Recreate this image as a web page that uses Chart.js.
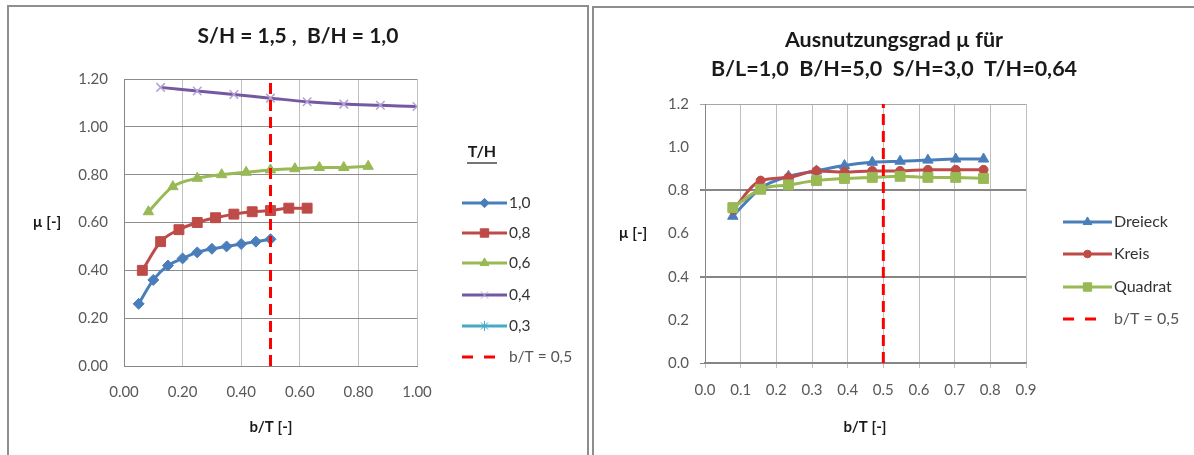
<!DOCTYPE html>
<html><head><meta charset="utf-8">
<script src="https://cdn.jsdelivr.net/npm/chart.js@4.4.0/dist/chart.umd.min.js"></script>
<style>
body{margin:0;background:#fff;width:1194px;height:455px;overflow:hidden;position:relative;}
.panel{position:absolute;border:2px solid #8e8e8e;box-sizing:border-box;}
canvas{position:absolute;}
</style></head><body>
<div class="panel" style="left:7px;top:5px;width:582px;height:470px"></div>
<div class="panel" style="left:592px;top:6px;width:620px;height:470px"></div>
<canvas id="c1" width="577" height="448" style="left:9px;top:7px"></canvas>
<canvas id="c2" width="598" height="447" style="left:595px;top:8px"></canvas>
<script>
// ---------- DATA: left chart ----------
const leftTitle = 'S/H = 1,5 ,  B/H = 1,0';
const leftLegendTitle = 'T/H';
const leftSeriesNames = ['1,0', '0,8', '0,6', '0,4', '0,3'];
const bT_TH10 = [0.05, 0.10, 0.15, 0.20, 0.25, 0.30, 0.35, 0.40, 0.45, 0.50];
const mu_TH10 = [0.26, 0.36, 0.42, 0.45, 0.475, 0.49, 0.50, 0.51, 0.52, 0.53];
const bT_TH08 = [0.0625, 0.125, 0.1875, 0.25, 0.3125, 0.375, 0.4375, 0.5, 0.5625, 0.625];
const mu_TH08 = [0.40, 0.52, 0.57, 0.60, 0.62, 0.635, 0.645, 0.65, 0.66, 0.66];
const bT_TH06 = [0.0833, 0.1667, 0.25, 0.3333, 0.4167, 0.5, 0.5833, 0.6667, 0.75, 0.8333];
const mu_TH06 = [0.645, 0.75, 0.785, 0.80, 0.81, 0.82, 0.825, 0.83, 0.83, 0.835];
const bT_TH04 = [0.125, 0.25, 0.375, 0.5, 0.625, 0.75, 0.875, 1.0];
const mu_TH04 = [1.165, 1.15, 1.135, 1.12, 1.105, 1.095, 1.09, 1.085];
const bT_TH03 = [];
const mu_TH03 = [];
const leftXTickValues = [0, 0.2, 0.4, 0.6, 0.8, 1.0];
const leftXTickLabels = ['0.00', '0.20', '0.40', '0.60', '0.80', '1.00'];
const leftYTickValues = [0, 0.2, 0.4, 0.6, 0.8, 1.0, 1.2];
const leftYTickLabels = ['0.00', '0.20', '0.40', '0.60', '0.80', '1.00', '1.20'];
const leftXTitle = 'b/T [-]';
const leftYTitle = 'µ [-]';

// ---------- DATA: reference line ----------
const refLineX = [0.5, 0.5];
const refLineY = [0, 1.2];
const refLineLabel = 'b/T = 0,5';

// ---------- DATA: right chart ----------
const rightTitleLines = ['Ausnutzungsgrad µ für', 'B/L=1,0  B/H=5,0  S/H=3,0  T/H=0,64'];
const rightSeriesNames = ['Dreieck', 'Kreis', 'Quadrat'];
const bT_right = [0.078, 0.156, 0.234, 0.3125, 0.391, 0.469, 0.547, 0.625, 0.703, 0.781];
const mu_Dreieck = [0.68, 0.81, 0.865, 0.89, 0.915, 0.93, 0.935, 0.94, 0.945, 0.945];
const mu_Kreis = [0.71, 0.845, 0.86, 0.89, 0.885, 0.89, 0.89, 0.895, 0.895, 0.895];
const mu_Quadrat = [0.72, 0.805, 0.825, 0.845, 0.855, 0.86, 0.865, 0.86, 0.86, 0.855];
const rightXTickValues = [0, 0.1, 0.2, 0.3, 0.4, 0.5, 0.6, 0.7, 0.8, 0.9];
const rightXTickLabels = ['0.0', '0.1', '0.2', '0.3', '0.4', '0.5', '0.6', '0.7', '0.8', '0.9'];
const rightYTickValues = [0, 0.2, 0.4, 0.6, 0.8, 1.0, 1.2];
const rightYTickLabels = ['0.0', '0.2', '0.4', '0.6', '0.8', '1.0', '1.2'];
const rightXTitle = 'b/T [-]';
const rightYTitle = 'µ [-]';

// ---------- helpers ----------
const FONT = 'Lato, "Open Sans", sans-serif';
Chart.defaults.font.family = FONT;
const pts = (xs, ys) => xs.map((x, i) => ({x: x, y: ys[i]}));

function drawMarker(ctx, style, r, x, y, fill, stroke, bw) {
  ctx.save();
  ctx.fillStyle = fill; ctx.strokeStyle = stroke;
  if (Chart.helpers && Chart.helpers.drawPoint) {
    Chart.helpers.drawPoint(ctx, {pointStyle: style, radius: r, rotation: 0, borderWidth: bw}, x, y);
  }
  ctx.restore();
}
function legendLine(ctx, x1, x2, y, color, lw, dash, marker) {
  ctx.save();
  ctx.strokeStyle = color; ctx.lineWidth = lw;
  if (dash) ctx.setLineDash(dash);
  ctx.beginPath(); ctx.moveTo(x1, y); ctx.lineTo(x2, y); ctx.stroke();
  ctx.restore();
  if (marker) drawMarker(ctx, marker.style, marker.r, (x1 + x2) / 2, y, marker.fill, marker.stroke, marker.bw);
}
function txt(ctx, s, x, y, font, color, align) {
  ctx.save();
  ctx.font = font; ctx.fillStyle = color; ctx.textAlign = align || 'center'; ctx.textBaseline = 'middle';
  ctx.fillText(s, x, y);
  ctx.restore();
}
function fixTicks(values) { return function (scale) { scale.ticks = values.map(v => ({value: v})); }; }
const isMult = (v, m) => Math.abs(v / m - Math.round(v / m)) < 1e-6;

// ---------- LEFT CHART ----------
const leftStyles = [
  {color: '#4A7EBB', style: 'rectRot', r: 5.5, fill: '#4A7EBB', stroke: '#4A7EBB', bw: 1},
  {color: '#BE4B48', style: 'rect', r: 7, fill: '#BE4B48', stroke: '#BE4B48', bw: 1},
  {color: '#98B954', style: 'triangle', r: 6, fill: '#98B954', stroke: '#98B954', bw: 1},
  {color: '#7459A0', style: 'crossRot', r: 6, fill: '#B3A2D3', stroke: '#B3A2D3', bw: 1.5},
  {color: '#46AAC5', style: 'star', r: 6, fill: '#46AAC5', stroke: '#46AAC5', bw: 1.5}
];
const leftXs = [bT_TH10, bT_TH08, bT_TH06, bT_TH04, bT_TH03];
const leftYs = [mu_TH10, mu_TH08, mu_TH06, mu_TH04, mu_TH03];

const leftDatasets = leftSeriesNames.map((name, i) => ({
  label: name,
  data: pts(leftXs[i], leftYs[i]),
  borderColor: leftStyles[i].color,
  borderWidth: 3,
  pointStyle: leftStyles[i].style,
  pointRadius: leftStyles[i].r,
  pointBackgroundColor: leftStyles[i].fill,
  pointBorderColor: leftStyles[i].stroke,
  pointBorderWidth: leftStyles[i].bw,
  cubicInterpolationMode: 'monotone',
  order: 10 - i
}));
leftDatasets.push({
  label: refLineLabel, data: pts(refLineX, refLineY), borderColor: '#FF0000', borderWidth: 3,
  borderDash: [11, 6], pointRadius: 0, order: 0
});

const leftDecor = {
  id: 'leftDecor',
  afterDraw(chart) {
    const ctx = chart.ctx;
    txt(ctx, leftTitle, 289, 29, 'bold 21px ' + FONT, '#1a1a1a');
    txt(ctx, leftYTitle, 38, 215, 'bold 15px ' + FONT, '#1a1a1a');
    txt(ctx, leftXTitle, 262, 420, 'bold 15px ' + FONT, '#1a1a1a');
    // legend
    txt(ctx, leftLegendTitle, 473, 145, 'bold 16px ' + FONT, '#1a1a1a');
    ctx.save(); ctx.strokeStyle = '#1a1a1a'; ctx.lineWidth = 1.2;
    ctx.beginPath(); ctx.moveTo(458, 156); ctx.lineTo(488, 156); ctx.stroke(); ctx.restore();
    const ly = [196, 226, 256, 288, 319];
    leftSeriesNames.forEach((n, i) => {
      const s = leftStyles[i];
      legendLine(ctx, 453, 498, ly[i], s.color, 3, null, {style: s.style, r: s.r * 0.85, fill: s.fill, stroke: s.stroke, bw: s.bw});
      txt(ctx, n, 500, ly[i], '15.5px ' + FONT, '#333', 'left');
    });
    legendLine(ctx, 453, 490, 350, '#FF0000', 3, [11, 11], null);
    txt(ctx, refLineLabel, 500, 350, '15.5px ' + FONT, '#555', 'left');
  }
};

new Chart(document.getElementById('c1'), {
  type: 'line',
  data: {datasets: leftDatasets},
  options: {
    responsive: false, animation: false,
    layout: {padding: {left: 0, top: 72, right: 169, bottom: 0}},
    plugins: {legend: {display: false}, title: {display: false}, tooltip: {enabled: false}},
    scales: {
      x: {
        type: 'linear', min: 0, max: 1,
        afterBuildTicks: fixTicks(leftXTickValues),
        afterFit(s) { s.height = 89; },
        grid: {color: '#BFBFBF', lineWidth: 1, drawTicks: false},
        border: {color: '#868686', width: 1},
        ticks: {padding: 17, color: '#595959', font: {size: 15},
          callback: (v, i) => leftXTickLabels[i]}
      },
      y: {
        type: 'linear', min: 0, max: 1.2,
        afterBuildTicks: fixTicks(leftYTickValues),
        afterFit(s) { s.width = 115; },
        grid: {color: '#8C8C8C', lineWidth: 1, drawTicks: false},
        border: {color: '#868686', width: 1},
        ticks: {padding: 16, color: '#595959', font: {size: 15},
          callback: (v, i) => leftYTickLabels[i]}
      }
    }
  },
  plugins: [leftDecor]
});

// ---------- RIGHT CHART ----------
const rightStyles = [
  {color: '#4A7EBB', style: 'triangle', r: 6, fill: '#4A7EBB', stroke: '#4A7EBB', bw: 1},
  {color: '#BE4B48', style: 'circle', r: 4.5, fill: '#BE4B48', stroke: '#BE4B48', bw: 1},
  {color: '#98B954', style: 'rect', r: 7, fill: '#98B954', stroke: '#98B954', bw: 1}
];
const rightYs = [mu_Dreieck, mu_Kreis, mu_Quadrat];
const rightDatasets = rightSeriesNames.map((name, i) => ({
  label: name,
  data: pts(bT_right, rightYs[i]),
  borderColor: rightStyles[i].color,
  borderWidth: 3,
  pointStyle: rightStyles[i].style,
  pointRadius: rightStyles[i].r,
  pointBackgroundColor: rightStyles[i].fill,
  pointBorderColor: rightStyles[i].stroke,
  pointBorderWidth: rightStyles[i].bw,
  cubicInterpolationMode: 'monotone',
  order: 10 - i
}));
rightDatasets.push({
  label: refLineLabel, data: pts(refLineX, refLineY), borderColor: '#FF0000', borderWidth: 3,
  borderDash: [11, 6], pointRadius: 0, order: 0
});

const rightDecor = {
  id: 'rightDecor',
  afterDraw(chart) {
    const ctx = chart.ctx;
    txt(ctx, rightTitleLines[0], 299, 32, 'bold 21.5px ' + FONT, '#1a1a1a');
    txt(ctx, rightTitleLines[1], 299, 61, 'bold 21.5px ' + FONT, '#1a1a1a');
    txt(ctx, rightYTitle, 38, 225, 'bold 15px ' + FONT, '#1a1a1a');
    txt(ctx, rightXTitle, 270, 419, 'bold 15px ' + FONT, '#1a1a1a');
    const ly = [214, 246, 279];
    rightSeriesNames.forEach((n, i) => {
      const s = rightStyles[i];
      legendLine(ctx, 468, 517, ly[i], s.color, 3, null, {style: s.style, r: s.r * 0.85, fill: s.fill, stroke: s.stroke, bw: s.bw});
      txt(ctx, n, 519, ly[i], '16px ' + FONT, '#333', 'left');
    });
    legendLine(ctx, 468, 506, 311, '#FF0000', 3, [11, 11], null);
    txt(ctx, refLineLabel, 519, 311, '16px ' + FONT, '#555', 'left');
  }
};

new Chart(document.getElementById('c2'), {
  type: 'line',
  data: {datasets: rightDatasets},
  options: {
    responsive: false, animation: false,
    layout: {padding: {left: 0, top: 96, right: 167, bottom: 0}},
    plugins: {legend: {display: false}, title: {display: false}, tooltip: {enabled: false}},
    scales: {
      x: {
        type: 'linear', min: 0, max: 0.9,
        afterBuildTicks: fixTicks(rightXTickValues),
        afterFit(s) { s.height = 92; },
        grid: {color: '#BFBFBF', lineWidth: 1, tickLength: 5},
        border: {color: '#868686', width: 1.5},
        ticks: {padding: 13, color: '#595959', font: {size: 15},
          callback: (v, i) => rightXTickLabels[i]}
      },
      y: {
        type: 'linear', min: 0, max: 1.2,
        afterBuildTicks: fixTicks(rightYTickValues),
        afterFit(s) { s.width = 110; },
        grid: {
          color: c => (c.tick && isMult(c.tick.value, 0.4)) ? (c.tick.value > 1.1 ? '#A6A6A6' : '#868686') : 'rgba(0,0,0,0)',
          lineWidth: c => (c.tick && isMult(c.tick.value, 0.4) && c.tick.value > 0.1 && c.tick.value < 1.1) ? 2 : 1,
          tickLength: 5
        },
        border: {color: '#868686', width: 1},
        ticks: {padding: 11, color: '#595959', font: {size: 15},
          callback: (v, i) => rightYTickLabels[i]}
      }
    }
  },
  plugins: [rightDecor]
});
</script>
</body></html>
